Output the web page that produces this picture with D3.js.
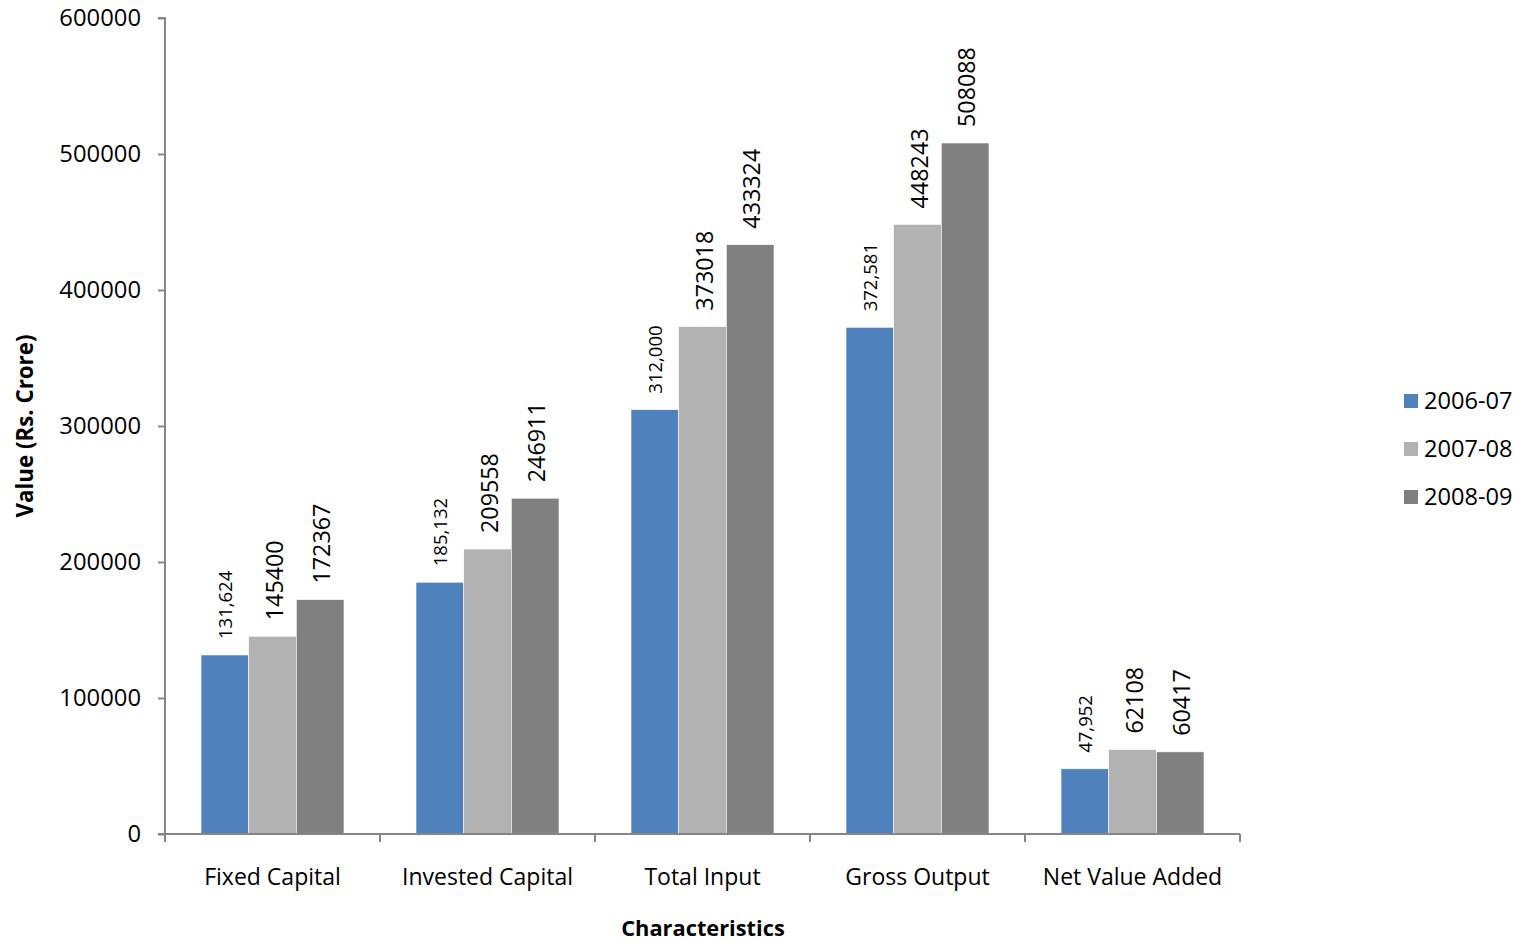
<!DOCTYPE html>
<html><head><meta charset="utf-8">
<script src="https://cdn.jsdelivr.net/npm/d3@7"></script>
<style>body{margin:0;background:#fff}svg{display:block;font-family:"Open Sans",sans-serif}</style>
</head><body>
<svg id="c" width="1522" height="943"></svg>
<script>
const categories = ["Fixed Capital","Invested Capital","Total Input","Gross Output","Net Value Added"];
const seriesNames = ["2006-07","2007-08","2008-09"];
const values2006 = [131624,185132,312000,372581,47952];
const values2007 = [145400,209558,373018,448243,62108];
const values2008 = [172367,246911,433324,508088,60417];
const yTicks = [0,100000,200000,300000,400000,500000,600000];
const colors = ["#4F81BD","#B2B2B2","#808080"];

(function(){
const series = [values2006, values2007, values2008];
const svg = d3.select("#c");
const pl = 165, pr = 1240, pt = 18, pb = 834;
const y = d3.scaleLinear().domain([0,600000]).range([pb, pt]);
const x0 = d3.scaleBand().domain(categories).range([pl,pr]).padding(0);
const x1 = d3.scaleBand().domain(seriesNames).range([36, x0.bandwidth()-36]).padding(0);

const g = svg.append("g");
categories.forEach((c,ci)=>{
  seriesNames.forEach((s,si)=>{
    const v = series[si][ci];
    const bx = x0(c)+x1(s);
    g.append("rect").attr("x",bx).attr("y",y(v)).attr("width",x1.bandwidth()).attr("height",y(0)-y(v))
      .attr("fill",colors[si]).attr("stroke","#ffffff").attr("stroke-width",0.6);
    const cx = bx + x1.bandwidth()/2;
    const ly = y(v) - 16;
    const small = si===0;
    g.append("text").attr("transform",`translate(${cx+(small?1:2)},${ly}) rotate(-90)`)
      .attr("dy","0.35em").attr("text-anchor","start")
      .attr("font-size", small?18.5:23.3).attr("fill","#000")
      .text(small ? d3.format(",")(v) : String(v));
  });
});

const yAxis = d3.axisLeft(y).tickValues(yTicks).tickSize(7).tickPadding(17).tickFormat(d=>String(d));
const ya = svg.append("g").attr("transform",`translate(${pl},0)`).call(yAxis);
ya.select(".domain").attr("stroke","#868686").attr("stroke-width",2).attr("d",`M-7,${pt}H0V${pb}`);
ya.selectAll(".tick line").attr("stroke","#868686").attr("stroke-width",2);
ya.selectAll(".tick text").attr("font-size",23.8).attr("fill","#000").attr("font-family","Open Sans");

const xa = svg.append("g").attr("transform",`translate(0,${pb})`);
xa.append("path").attr("d",`M${pl-7},0H${pr}`).attr("stroke","#868686").attr("stroke-width",2).attr("fill","none");
const bounds = categories.map(c=>x0(c)).concat([pr]);
xa.selectAll(".xt").data(bounds).enter().append("line")
  .attr("x1",d=>d).attr("x2",d=>d).attr("y1",0).attr("y2",8).attr("stroke","#868686").attr("stroke-width",2);
xa.selectAll(".xl").data(categories).enter().append("text")
  .attr("x",d=>x0(d)+x0.bandwidth()/2).attr("y",51).attr("text-anchor","middle")
  .attr("font-size",23).attr("fill","#000").text(d=>d);

svg.append("text").attr("x",703).attr("y",936).attr("text-anchor","middle")
  .attr("font-size",21.8).attr("font-weight","bold").attr("fill","#000").text("Characteristics");
svg.append("text").attr("transform","translate(25,426) rotate(-90)").attr("dy","0.35em").attr("text-anchor","middle")
  .attr("font-size",22.3).attr("font-weight","bold").attr("fill","#000").text("Value (Rs. Crore)");

const lg = svg.append("g");
seriesNames.forEach((s,i)=>{
  const ly = 401 + i*48;
  lg.append("rect").attr("x",1404).attr("y",ly-7).attr("width",14).attr("height",14).attr("fill",colors[i]);
  lg.append("text").attr("x",1424).attr("y",ly).attr("dy","0.35em").attr("font-size",23.6).attr("fill","#000").text(s);
});
})();
</script>
</body></html>
